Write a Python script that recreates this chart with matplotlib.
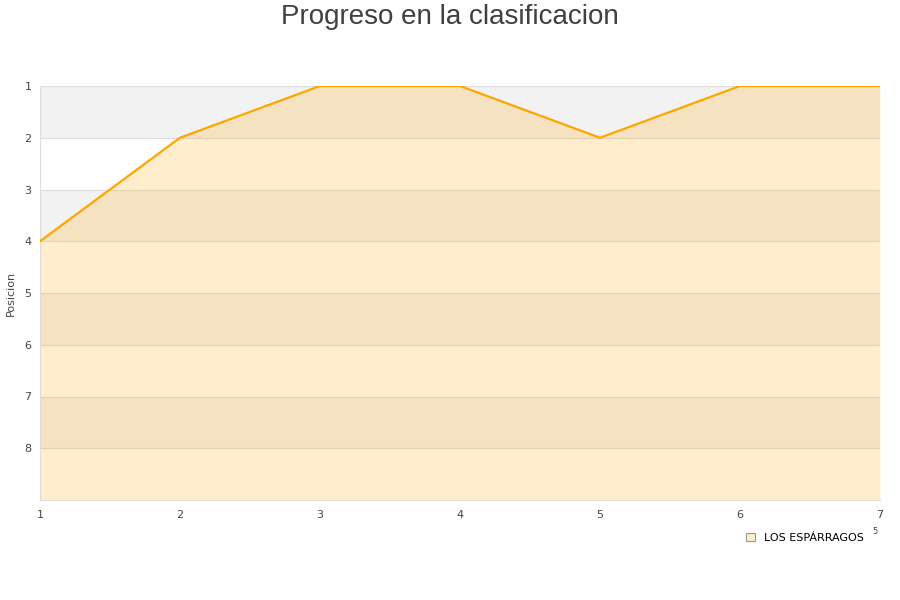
import matplotlib
matplotlib.use("Agg")
import matplotlib.pyplot as plt
from matplotlib.patches import Patch

jornadas = [1, 2, 3, 4, 5, 6, 7]
posiciones = [4, 2, 1, 1, 2, 1, 1]
equipo = "LOS ESPÁRRAGOS"
y_ticks = [1, 2, 3, 4, 5, 6, 7, 8]

fig = plt.figure(figsize=(9, 6), dpi=100)
ax = fig.add_axes([40/900, 100/600, 840/900, 414/600])

ax.set_xlim(1, 7)
ax.set_ylim(9, 1)

# alternating bands
for i in range(1, 9):
    if i % 2 == 1:
        ax.axhspan(i, i + 1, color="#f2f2f2", zorder=0, lw=0)
for y in y_ticks:
    ax.axhline(y, color="#dddddd", lw=0.8, zorder=1)

ax.fill_between(jornadas, posiciones, 9, color="orange", alpha=0.2, lw=0, zorder=2)
ax.plot(jornadas, posiciones, color="orange", lw=1.6, zorder=3)

ax.set_xticks(jornadas)
ax.set_yticks(y_ticks)
ax.tick_params(axis="y", length=0, labelsize=8, colors="#444444", pad=6)
ax.tick_params(axis="x", length=0, labelsize=8, colors="#444444", pad=7)
for s in ["top", "right"]:
    ax.spines[s].set_visible(False)
for s in ["left", "bottom"]:
    ax.spines[s].set_color("#dddddd")
ax.set_ylabel("Posicion", fontsize=8, color="#444444")
ax.yaxis.set_label_coords(-24/840, 0.5)

fig.text(0.5, 1 - 17/600, "Progreso en la clasificacion", ha="center", va="center",
         fontsize=20, color="#404040", family="Liberation Sans")
fig.text(875/900, 1 - 531/600, "5", ha="center", va="center", fontsize=6, color="#444444")

handle = Patch(facecolor="#ffedcc", edgecolor="#999999", lw=0.8)
leg = fig.legend([handle], [equipo], loc="center", bbox_to_anchor=(805/900, 1 - 538/600),
                 frameon=False, fontsize=8, handlelength=0.8, handleheight=0.8, handletextpad=0.8)

fig.savefig("out.png", dpi=100)
